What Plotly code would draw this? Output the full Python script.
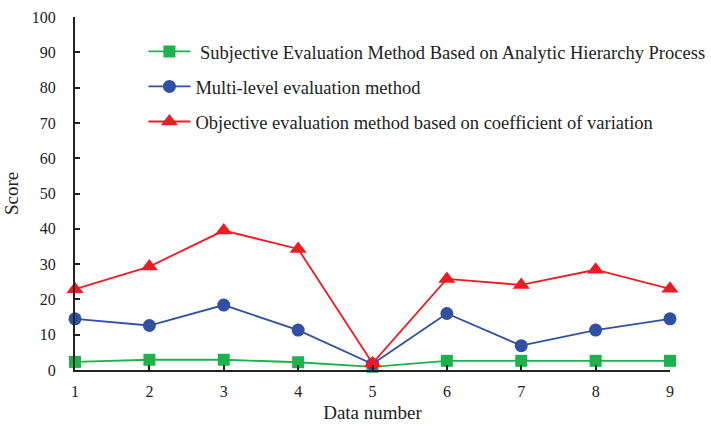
import plotly.graph_objects as go

data_number = [1, 2, 3, 4, 5, 6, 7, 8, 9]
ahp_subjective = [2.3, 2.9, 2.9, 2.2, 0.9, 2.6, 2.6, 2.6, 2.6]
multi_level = [14.5, 12.6, 18.4, 11.3, 1.7, 16.0, 6.9, 11.3, 14.5]
coef_variation = [22.9, 29.3, 39.5, 34.3, 1.9, 25.8, 24.1, 28.4, 23.0]

y_ticks = list(range(0, 101, 10))

FONT = "Liberation Serif"
INK = "#222222"

series = [
    (" Subjective Evaluation Method Based on Analytic Hierarchy Process",
     ahp_subjective, "#1db34c", "square", 12),
    ("Multi-level evaluation method", multi_level, "#3150a3", "circle", 13),
    ("Objective evaluation method based on coefficient of variation",
     coef_variation, "#ec1c24", "triangle-up", 15),
]

fig = go.Figure()
for i, (name, vals, color, symbol, size) in enumerate(series):
    fig.add_trace(go.Scatter(
        x=data_number, y=vals, name=name, mode="lines+markers",
        line=dict(color=color, width=1.8),
        marker=dict(symbol=symbol, size=size, color=color),
        cliponaxis=False, legendgroup=f"g{i}",
    ))

fig.update_layout(
    width=711, height=426,
    margin=dict(l=75, r=41, t=17, b=56, autoexpand=False),
    paper_bgcolor="white", plot_bgcolor="white",
    font=dict(family=FONT, size=16, color=INK),
    showlegend=True,
    legend=dict(
        x=0.115, y=0.955, xanchor="left", yanchor="top",
        bgcolor="rgba(0,0,0,0)", font=dict(family=FONT, size=18.5),
        tracegroupgap=8, itemwidth=42,
    ),
    xaxis=dict(
        range=[1, 9], tickvals=data_number, ticks="inside", ticklen=5,
        tickwidth=2, tickcolor=INK, showline=True, linecolor=INK,
        linewidth=2, showgrid=False, zeroline=False, automargin=False,
        ticklabelstandoff=6,
        title=dict(text="Data number", standoff=6, font=dict(size=19)),
    ),
    yaxis=dict(
        range=[0, 100], tickvals=y_ticks, ticks="inside", ticklen=5,
        tickwidth=2, tickcolor=INK, showline=True, linecolor=INK,
        linewidth=2, showgrid=False, zeroline=False, automargin=False,
        ticklabelstandoff=14,
        title=dict(text="Score", standoff=8, font=dict(size=19)),
    ),
)

fig.write_html("out.html")
